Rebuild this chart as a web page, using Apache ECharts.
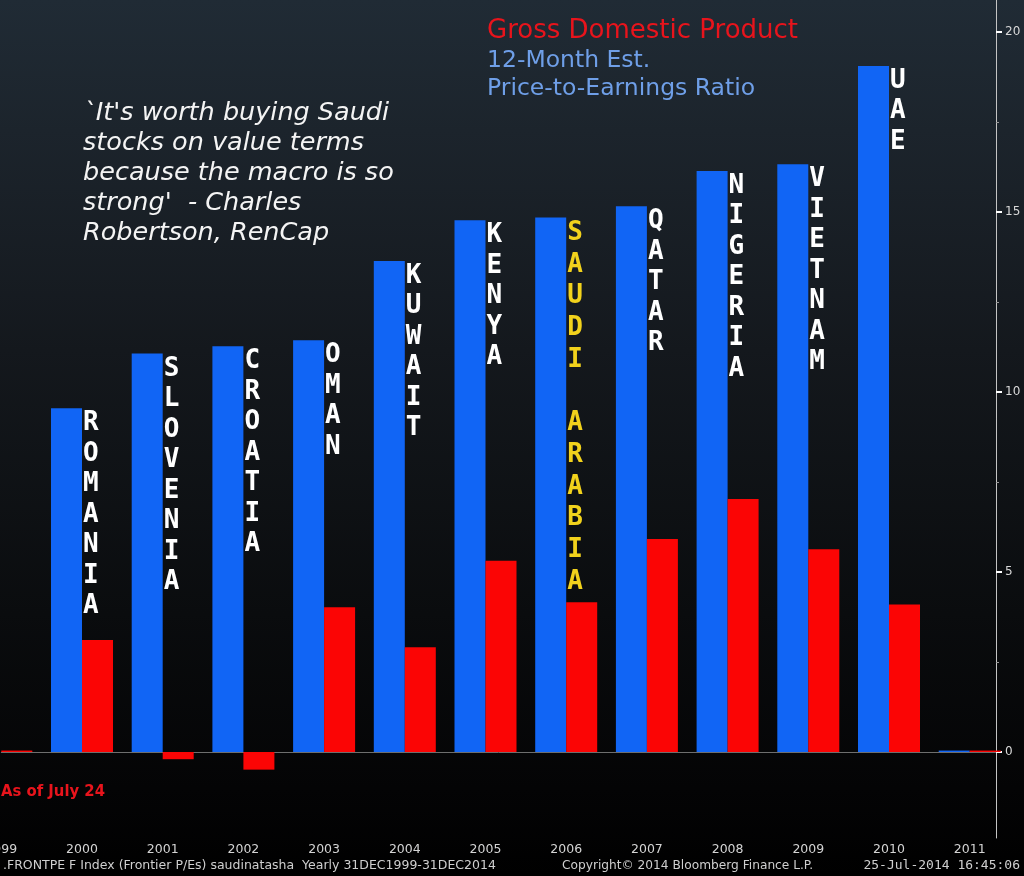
<!DOCTYPE html>
<html><head><meta charset="utf-8">
<script src="https://cdn.jsdelivr.net/npm/echarts@6/dist/echarts.min.js"></script>
<style>html,body{margin:0;padding:0;background:#000}#c{width:1024px;height:876px}</style>
</head><body><div id="c"></div>
<script>
// ---- data ----
const years = [1999, 2000, 2001, 2002, 2003, 2004, 2005, 2006, 2007, 2008, 2009, 2010, 2011];
const peRatio = [null, 9.55, 11.07, 11.27, 11.44, 13.64, 14.77, 14.85, 15.16, 16.14, 16.33, 19.06, 0.04];
const gdpGrowth = [0.04, 3.11, -0.20, -0.49, 4.02, 2.91, 5.31, 4.16, 5.92, 7.03, 5.63, 4.10, 0.04];
const countries = ['', 'ROMANIA', 'SLOVENIA', 'CROATIA', 'OMAN', 'KUWAIT', 'KENYA', 'SAUDI ARABIA', 'QATAR', 'NIGERIA', 'VIETNAM', 'UAE', ''];
const highlight = 'SAUDI ARABIA';
const yTicks = [0, 5, 10, 15, 20];
const yMinorTicks = [2.5, 7.5, 12.5, 17.5];
const titleGdp = 'Gross Domestic Product';
const titlePe1 = '12-Month Est.';
const titlePe2 = 'Price-to-Earnings Ratio';
const quoteLines = ["`It's worth buying Saudi", 'stocks on value terms', 'because the macro is so', "strong'  - Charles", 'Robertson, RenCap'];
const asOf = 'As of July 24';
const footLeft = '.FRONTPE F Index (Frontier P/Es) saudinatasha  Yearly 31DEC1999-31DEC2014';
const footMid = 'Copyright\u00A9 2014 Bloomberg Finance L.P.';
const footRight = '25-Jul-2014 16:45:06';

// ---- layout ----
const Y_MIN = -2.389, Y_MAX = 20.89;
const BAND = 80.7;               // px per year
const FIRST_CENTER = 1.3;        // px position of first year
const AXIS_X = 996;              // right axis line position
const lastCenter = FIRST_CENTER + BAND * (years.length - 1);
const xMax = years[0] + (AXIS_X - FIRST_CENTER) / BAND;

const chart = echarts.init(document.getElementById('c'), null, {renderer: 'canvas'});
const COND = '"DejaVu Sans Condensed","Liberation Sans Narrow","Liberation Sans",sans-serif';
const SANS = '"DejaVu Sans","Liberation Sans",sans-serif';

const blueData = peRatio.map((v, i) => {
  const name = countries[i];
  const item = {value: v};
  if (name) {
    const isHi = name === highlight;
    item.label = {
      show: true,
      formatter: name.split('').join('\n'),
      color: isHi ? '#f2d21c' : '#ffffff',
      lineHeight: isHi ? 31.7 : 30.5
    };
  }
  return item;
});

chart.setOption({
  animation: false,
  backgroundColor: {
    type: 'linear', x: 0, y: 0, x2: 0, y2: 1,
    colorStops: [
      {offset: 0, color: '#202b35'},
      {offset: 0.15, color: '#1c242c'},
      {offset: 0.4, color: '#14181d'},
      {offset: 0.7, color: '#0a0c0e'},
      {offset: 0.9, color: '#040405'},
      {offset: 1, color: '#000000'}
    ]
  },
  grid: [
    {left: FIRST_CENTER, right: 1024 - lastCenter, top: 0, bottom: 38, containLabel: false, outerBoundsMode: 'none'},
    {left: FIRST_CENTER, right: 1024 - AXIS_X, top: 0, bottom: 38, containLabel: false, outerBoundsMode: 'none'}
  ],
  xAxis: [
    {type: 'category', gridIndex: 0, data: years.map(String), show: false, boundaryGap: false},
    {
      type: 'value', gridIndex: 1,
      min: years[0], max: xMax, interval: 1,
      axisLine: {show: true, lineStyle: {color: '#6e6e6e', width: 1}},
      axisTick: {show: false},
      splitLine: {show: false},
      axisLabel: {
        show: true, showMinLabel: true, showMaxLabel: false, alignMinLabel: 'center',
        color: '#d4d4d4', fontSize: 12.5, fontFamily: SANS, margin: 5,
        formatter: v => (years.indexOf(v) >= 0) ? String(v) : ''
      }
    }
  ],
  yAxis: [
    {type: 'value', gridIndex: 0, min: Y_MIN, max: Y_MAX, show: false},
    {
      type: 'value', gridIndex: 1, position: 'right',
      min: Y_MIN, max: Y_MAX, splitNumber: 5,
      axisLine: {show: true, lineStyle: {color: '#c4c4c4', width: 1}},
      axisTick: {show: true, inside: false, length: 6, customValues: yTicks, lineStyle: {color: '#ffffff', width: 2}},
      splitLine: {show: false},
      axisLabel: {
        show: true, showMinLabel: true, showMaxLabel: true, customValues: yTicks,
        color: '#d8d8d8', fontSize: 12, fontFamily: SANS, margin: 9,
        formatter: v => yTicks.indexOf(v) >= 0 ? String(v) : ''
      }
    },
    {
      type: 'value', gridIndex: 1, position: 'right',
      min: Y_MIN, max: Y_MAX,
      axisLine: {show: false},
      axisTick: {show: true, inside: false, length: 3, customValues: yMinorTicks, lineStyle: {color: '#9a9a9a', width: 1}},
      splitLine: {show: false},
      axisLabel: {show: false}
    }
  ],
  series: [
    {
      type: 'bar', name: 'P/E', xAxisIndex: 0, yAxisIndex: 0, data: blueData,
      barWidth: 31, barGap: '0%', clip: false,
      itemStyle: {color: '#1165f5'},
      label: {
        show: false, position: ['100%', 0], offset: [1, 0],
        align: 'left', verticalAlign: 'top',
        fontFamily: '"DejaVu Sans Mono",monospace', fontSize: 26, fontWeight: 'bold', color: '#ffffff'
      }
    },
    {
      type: 'bar', name: 'GDP', xAxisIndex: 0, yAxisIndex: 0, data: gdpGrowth,
      barWidth: 31, barGap: '0%', clip: false,
      itemStyle: {color: '#fb0505'}
    }
  ],
  graphic: [
    {type: 'text', x: 487, y: 31, style: {text: titleGdp, fill: '#e8141c', font: '26px ' + SANS, align: 'left', verticalAlign: 'middle'}},
    {type: 'text', x: 487, y: 61, style: {text: titlePe1, fill: '#6f9fe8', font: '23.5px ' + SANS, align: 'left', verticalAlign: 'middle'}},
    {type: 'text', x: 487, y: 88.5, style: {text: titlePe2, fill: '#6f9fe8', font: '23.5px ' + SANS, align: 'left', verticalAlign: 'middle'}},
    {type: 'text', x: 83, y: 98, style: {text: quoteLines.join('\n'), fill: '#f4f4f4', font: 'italic 25.5px ' + SANS, lineHeight: 30, align: 'left', verticalAlign: 'top'}},
    {type: 'text', x: 1, y: 792, style: {text: asOf, fill: '#e8141c', font: 'bold 16.5px ' + COND, align: 'left', verticalAlign: 'middle'}},
    {type: 'text', x: 3, y: 866, style: {text: footLeft, fill: '#cfcfcf', font: '12.5px ' + SANS, align: 'left', verticalAlign: 'middle'}},
    {type: 'text', x: 562, y: 866, style: {text: footMid, fill: '#cfcfcf', font: '12.2px ' + SANS, align: 'left', verticalAlign: 'middle'}},
    {type: 'text', x: 1020, y: 866, style: {text: footRight, fill: '#cfcfcf', font: '13px "DejaVu Sans Mono"', align: 'right', verticalAlign: 'middle'}}
  ]
});
</script>
</body></html>
